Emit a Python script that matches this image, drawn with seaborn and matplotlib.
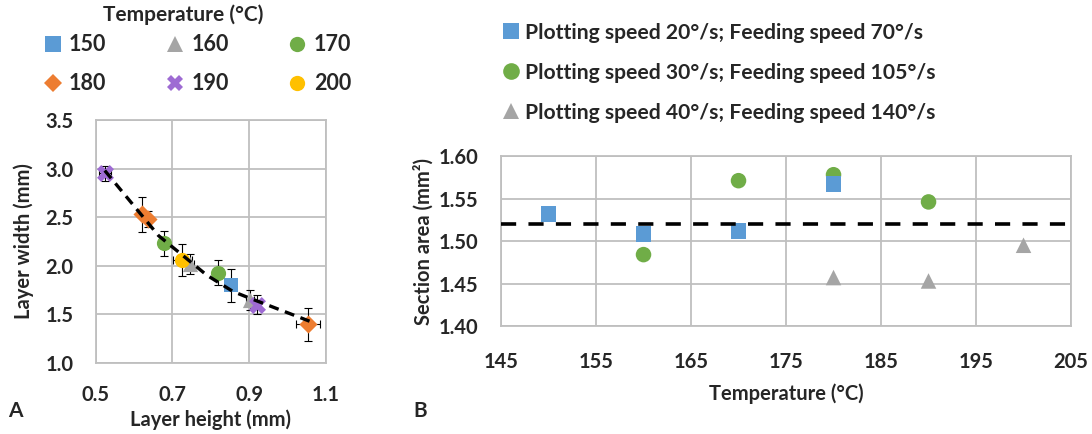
import numpy as np
import pandas as pd
import matplotlib
matplotlib.use('Agg')
import matplotlib.pyplot as plt
from matplotlib.lines import Line2D
from matplotlib.ticker import FormatStrFormatter
import seaborn as sns

# Panel A: layer height vs layer width for each nozzle temperature
temp_a = [150, 160, 160, 170, 170, 180, 180, 180, 190, 190, 200]
height_a = [0.852, 0.746, 0.902, 0.677, 0.819, 0.621, 0.637, 1.053, 0.524, 0.919, 0.726]
width_a = [1.80, 2.02, 1.65, 2.23, 1.93, 2.53, 2.48, 1.40, 2.95, 1.60, 2.06]
height_err = [0.01, 0.01, 0.01, 0.01, 0.01, 0.01, 0.01, 0.03, 0.015, 0.01, 0.025]
width_err = [0.17, 0.10, 0.10, 0.13, 0.13, 0.18, 0.08, 0.17, 0.08, 0.10, 0.16]

# dashed trend line
trend_h = [0.524, 0.664, 0.763, 0.789, 0.858, 0.893, 1.057]
trend_w = [2.98, 2.31, 1.99, 1.905, 1.735, 1.68, 1.43]

# Panel B: section area vs temperature for each speed setting
temp_b = [150, 160, 160, 170, 170, 180, 180, 180, 190, 190, 200]
speed_b = [20, 20, 30, 30, 20, 30, 20, 40, 30, 40, 40]
area_b = [1.532, 1.508, 1.484, 1.571, 1.512, 1.578, 1.567, 1.457, 1.546, 1.453, 1.495]
mean_area = 1.52

speed_labels = {20: 'Plotting speed 20°/s; Feeding speed 70°/s',
                30: 'Plotting speed 30°/s; Feeding speed 105°/s',
                40: 'Plotting speed 40°/s; Feeding speed 140°/s'}

temp_colors = {150: '#5B9BD5', 160: '#A5A5A5', 170: '#70AD47',
               180: '#ED7D31', 190: '#9E6BD3', 200: '#FFC000'}
temp_markers = {150: 's', 160: '^', 170: 'o', 180: 'D', 190: 'X', 200: 'o'}
temp_sizes = {150: 110, 160: 120, 170: 120, 180: 85, 190: 150, 200: 120}
speed_colors = {20: '#5B9BD5', 30: '#70AD47', 40: '#A5A5A5'}
speed_markers = {20: 's', 30: 'o', 40: '^'}

sns.set_style('white')
plt.rcParams['font.family'] = ['Lato', 'DejaVu Sans']
plt.rcParams['font.weight'] = 'bold'
plt.rcParams['axes.labelweight'] = 'bold'

df_a = pd.DataFrame({'temp': temp_a, 'h': height_a, 'w': width_a,
                     'herr': height_err, 'werr': width_err})
df_b = pd.DataFrame({'temp': temp_b, 'speed': speed_b, 'area': area_b})

fig = plt.figure(figsize=(10.92, 4.34), dpi=100)
ax1 = fig.add_axes([0.0875, 0.1636, 0.2111, 0.5599])
ax2 = fig.add_axes([0.4588, 0.2488, 0.5220, 0.3917])

grid_c = '#BFBFBF'

# ---- panel A
ax1.errorbar(df_a['h'], df_a['w'], xerr=df_a['herr'], yerr=df_a['werr'],
             fmt='none', ecolor='black', elinewidth=0.8, capsize=3, capthick=0.8, zorder=2)
for t in temp_colors:
    sub = df_a[df_a['temp'] == t]
    sns.scatterplot(data=sub, x='h', y='w', ax=ax1, color=temp_colors[t],
                    marker=temp_markers[t], s=temp_sizes[t], linewidth=0, zorder=3)
ax1.plot(trend_h, trend_w, color='black', lw=2.4, dashes=(3.0, 2.0), zorder=4)

ax1.set_xlim(0.5, 1.1)
ax1.set_ylim(1.0, 3.5)
ax1.set_xticks([0.5, 0.7, 0.9, 1.1])
ax1.set_yticks([1.0, 1.5, 2.0, 2.5, 3.0, 3.5])
ax1.xaxis.set_major_formatter(FormatStrFormatter('%.1f'))
ax1.yaxis.set_major_formatter(FormatStrFormatter('%.1f'))
ax1.set_xlabel('Layer height (mm)', fontsize=14.5, labelpad=3)
ax1.set_ylabel('Layer width (mm)', fontsize=14.5, labelpad=8)

handles_a = [Line2D([], [], ls='none', marker=temp_markers[t], color=temp_colors[t],
                    markersize=11 if temp_markers[t] != 'D' else 9, markeredgewidth=0)
             for t in temp_colors]
labels_a = [str(t) for t in temp_colors]
order = [0, 3, 1, 4, 2, 5]
fig.text(183 / 1092, 1 - 15 / 434, 'Temperature (°C)', fontsize=15,
         fontweight='bold', ha='center', va='center')
fig.legend([handles_a[i] for i in order], [labels_a[i] for i in order],
           ncol=3, loc='upper center', bbox_to_anchor=(197 / 1092, 1 - 19 / 434),
           frameon=False, fontsize=15.5, handlelength=0.9,
           handletextpad=0.3, columnspacing=2.75, labelspacing=0.85,
           borderpad=0.2)

# ---- panel B
sns.scatterplot(data=df_b, x='temp', y='area', hue='speed', style='speed',
                palette=speed_colors, markers=speed_markers, s=125, linewidth=0,
                ax=ax2, legend=False, zorder=3)
ax2.axhline(mean_area, color='black', lw=2.6, dashes=(4.2, 3.4), zorder=4)

ax2.set_xlim(145, 205)
ax2.set_ylim(1.40, 1.60)
ax2.set_xticks(np.arange(145, 206, 10))
ax2.set_yticks([1.40, 1.45, 1.50, 1.55, 1.60])
ax2.yaxis.set_major_formatter(FormatStrFormatter('%.2f'))
ax2.set_xlabel('Temperature (°C)', fontsize=14.5, labelpad=8)
ax2.set_ylabel('Section area (mm²)', fontsize=14.5, labelpad=4)

handles_b = [Line2D([], [], ls='none', marker=speed_markers[k], color=speed_colors[k],
                    markersize=12, markeredgewidth=0) for k in speed_labels]
fig.legend(handles_b, list(speed_labels.values()), loc='upper left',
           bbox_to_anchor=(489 / 1092, 1 - 8 / 434), frameon=False, fontsize=15.2,
           handlelength=0.7, handletextpad=0.3, labelspacing=0.95, borderpad=0.2)

for ax in (ax1, ax2):
    ax.grid(True, color=grid_c, lw=1.3)
    ax.set_axisbelow(True)
    for sp in ax.spines.values():
        sp.set_color(grid_c)
        sp.set_linewidth(1.3)
    ax.tick_params(axis='both', length=0, labelsize=14.5, pad=16)
ax2.tick_params(axis='x', pad=19)

fig.text(8 / 1092, 1 - 411 / 434, 'A', fontsize=15, fontweight='bold', va='center')
fig.text(413 / 1092, 1 - 411 / 434, 'B', fontsize=15, fontweight='bold', va='center')

fig.savefig('out.png', dpi=100)
